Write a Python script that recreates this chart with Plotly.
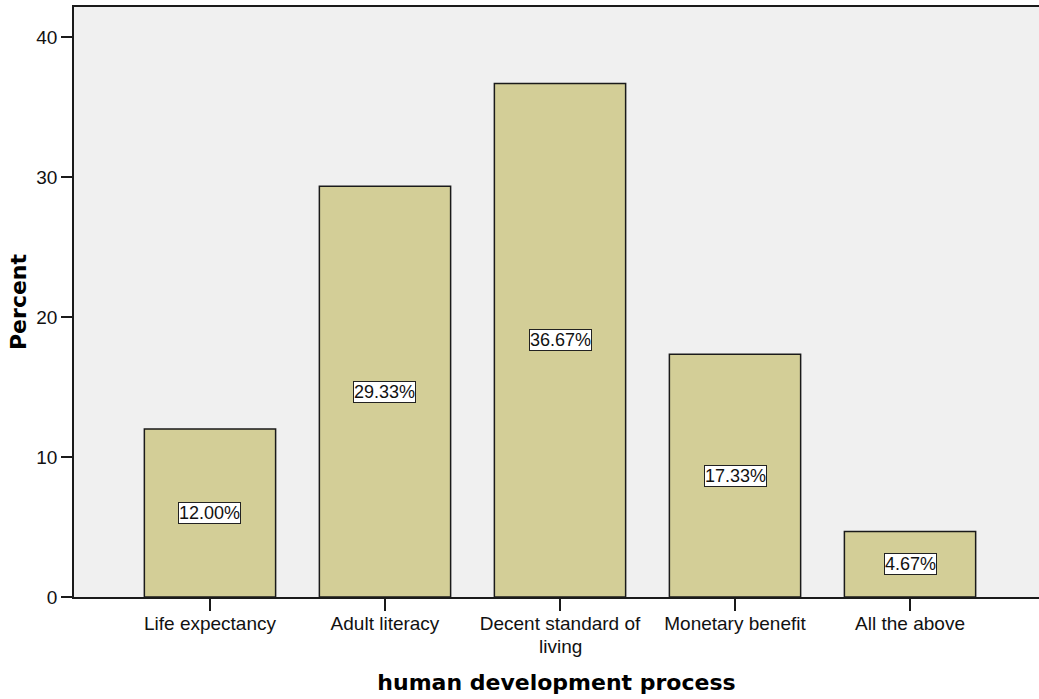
import plotly.graph_objects as go

# Responses to "human development process" (percent of respondents)
categories = ["Life expectancy", "Adult literacy", "Decent standard of living",
              "Monetary benefit", "All the above"]
tick_labels = ["Life expectancy", "Adult literacy", "Decent standard of",
               "Monetary benefit", "All the above"]
wrapped_tail = {"Decent standard of living": "living"}
percent = [12.00, 29.33, 36.67, 17.33, 4.67]
y_ticks = [0, 10, 20, 30, 40]

BAR_FILL = "#D3CE97"
PLOT_BG = "#F0F0F0"
INK = "#1a1a1a"
TICK_FONT = dict(family="Liberation Sans, Arial, sans-serif", size=19, color="#111")
VALUE_FONT = dict(family="Liberation Sans, Arial, sans-serif", size=18, color="#111")
TITLE_FONT = dict(family="DejaVu Sans, Verdana, sans-serif", size=22, color="#000")

fig = go.Figure()
fig.add_trace(go.Bar(
    x=list(range(len(categories))),
    y=percent,
    width=0.75,
    marker=dict(color=BAR_FILL, line=dict(color=INK, width=1.5)),
    hoverinfo="skip",
))

# Boxed percentage labels at the middle of each bar
for i, v in enumerate(percent):
    fig.add_annotation(
        x=i, y=v / 2, xref="x", yref="y",
        text=f"{v:.2f}%", showarrow=False,
        font=VALUE_FONT, bgcolor="white",
        bordercolor="#222", borderwidth=1, borderpad=0,
    )

# Second line of wrapped category labels
for i, cat in enumerate(categories):
    if cat in wrapped_tail:
        fig.add_annotation(
            x=i, y=0, xref="x", yref="paper",
            yanchor="top", yshift=-37,
            text=wrapped_tail[cat], showarrow=False,
            font=TICK_FONT,
        )

fig.update_layout(
    width=1039, height=699,
    margin=dict(l=74, r=0, t=7, b=102),
    paper_bgcolor="white",
    plot_bgcolor=PLOT_BG,
    showlegend=False,
)

fig.update_xaxes(
    range=[-0.777, 4.737],
    tickmode="array",
    tickvals=list(range(len(categories))),
    ticktext=tick_labels,
    tickfont=TICK_FONT,
    ticks="outside", ticklen=12, tickwidth=1.5, tickcolor=INK,
    ticklabelstandoff=-4,
    showline=True, linecolor=INK, linewidth=1.5, mirror=True,
    showgrid=False, zeroline=False,
    title=dict(text="<b>human development process</b>", font=TITLE_FONT, standoff=42),
)

fig.update_yaxes(
    range=[0, 42.14],
    tickmode="array",
    tickvals=y_ticks,
    ticktext=[str(t) for t in y_ticks],
    tickfont=TICK_FONT,
    ticks="outside", ticklen=11, tickwidth=1.5, tickcolor=INK,
    showline=True, linecolor=INK, linewidth=1.5,
    showgrid=False, zeroline=False,
    title=dict(text="<b>Percent</b>", font=TITLE_FONT, standoff=4),
)

fig.write_html("out.html")
